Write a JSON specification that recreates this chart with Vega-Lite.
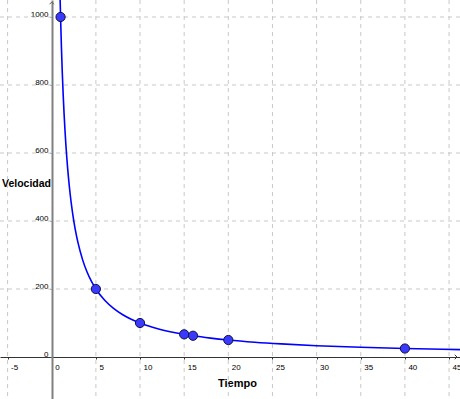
{
  "$schema": "https://vega.github.io/schema/vega-lite/v6.json",
  "width": 460,
  "height": 399,
  "padding": 0,
  "autosize": {"type": "none"},
  "background": "white",
  "config": {"view": {"stroke": null}, "font": "Liberation Sans"},
  "datasets": {
    "curve": [
      {"Tiempo": 0.95, "Velocidad": 1052.6},
      {"Tiempo": 1.0, "Velocidad": 1000},
      {"Tiempo": 1.1, "Velocidad": 909.1},
      {"Tiempo": 1.2, "Velocidad": 833.3},
      {"Tiempo": 1.3, "Velocidad": 769.2},
      {"Tiempo": 1.4, "Velocidad": 714.3},
      {"Tiempo": 1.5, "Velocidad": 666.7},
      {"Tiempo": 1.6, "Velocidad": 625},
      {"Tiempo": 1.8, "Velocidad": 555.6},
      {"Tiempo": 2.0, "Velocidad": 500},
      {"Tiempo": 2.2, "Velocidad": 454.5},
      {"Tiempo": 2.5, "Velocidad": 400},
      {"Tiempo": 2.8, "Velocidad": 357.1},
      {"Tiempo": 3.0, "Velocidad": 333.3},
      {"Tiempo": 3.5, "Velocidad": 285.7},
      {"Tiempo": 4.0, "Velocidad": 250},
      {"Tiempo": 4.5, "Velocidad": 222.2},
      {"Tiempo": 5.0, "Velocidad": 200},
      {"Tiempo": 6.0, "Velocidad": 166.7},
      {"Tiempo": 7.0, "Velocidad": 142.9},
      {"Tiempo": 8.0, "Velocidad": 125},
      {"Tiempo": 9.0, "Velocidad": 111.1},
      {"Tiempo": 10.0, "Velocidad": 100},
      {"Tiempo": 12.0, "Velocidad": 83.3},
      {"Tiempo": 14.0, "Velocidad": 71.4},
      {"Tiempo": 16.0, "Velocidad": 62.5},
      {"Tiempo": 18.0, "Velocidad": 55.6},
      {"Tiempo": 20.0, "Velocidad": 50},
      {"Tiempo": 23.0, "Velocidad": 43.5},
      {"Tiempo": 26.0, "Velocidad": 38.5},
      {"Tiempo": 30.0, "Velocidad": 33.3},
      {"Tiempo": 35.0, "Velocidad": 28.6},
      {"Tiempo": 40.0, "Velocidad": 25},
      {"Tiempo": 46.3, "Velocidad": 21.6}
    ],
    "points": [
      {"Tiempo": 1, "Velocidad": 1000},
      {"Tiempo": 5, "Velocidad": 200},
      {"Tiempo": 10, "Velocidad": 100},
      {"Tiempo": 15, "Velocidad": 66.7},
      {"Tiempo": 16, "Velocidad": 62.5},
      {"Tiempo": 20, "Velocidad": 50},
      {"Tiempo": 40, "Velocidad": 25}
    ],
    "vgrid": [
      {"v": -5}, {"v": 5}, {"v": 10}, {"v": 15}, {"v": 20},
      {"v": 25}, {"v": 30}, {"v": 35}, {"v": 40}, {"v": 45}
    ],
    "hgrid": [
      {"v": 200}, {"v": 400}, {"v": 600}, {"v": 800}, {"v": 1000}
    ],
    "xarrow": [{"x": 45.9, "y": 0}],
    "yarrow": [{"x": 0, "y": 1044}]
  },
  "layer": [
    {
      "data": {"name": "vgrid"},
      "mark": {"type": "rule", "color": "#c8c8c8", "strokeDash": [4, 4], "strokeWidth": 1},
      "encoding": {
        "x": {"field": "v", "type": "quantitative",
              "scale": {"domain": [-5.86, 46.24], "nice": false, "zero": false},
              "axis": {
                "orient": "bottom", "offset": -42, "values": [-5, 0, 5, 10, 15, 20, 25, 30, 35, 40, 45],
                "labelExpr": "'' + datum.value",
                "grid": false, "domainColor": "#333333", "domainWidth": 1,
                "tickColor": "#333333", "tickSize": 2,
                "labelFont": "Liberation Sans", "labelFontSize": 8, "labelColor": "#000000",
                "labelAlign": "left", "labelOffset": 3, "labelBaseline": "top", "labelPadding": 4,
                "title": "Tiempo", "titleFont": "Liberation Sans", "titleFontSize": 11, "titleFontWeight": "bold",
                "titleX": 237, "titleY": 26, "titleAlign": "center", "titleBaseline": "middle", "titleColor": "#000000"
              }}
      }
    },
    {
      "data": {"name": "hgrid"},
      "mark": {"type": "rule", "color": "#c8c8c8", "strokeDash": [4, 4], "strokeWidth": 1},
      "encoding": {
        "y": {"field": "v", "type": "quantitative",
              "scale": {"domain": [-123.5, 1050], "nice": false, "zero": false},
              "axis": {
                "orient": "left", "offset": -52, "values": [0, 200, 400, 600, 800, 1000],
                "labelExpr": "'' + datum.value",
                "grid": false, "domainColor": "#808080", "domainWidth": 2,
                "tickColor": "#555555", "tickSize": 2,
                "labelFont": "Liberation Sans", "labelFontSize": 8, "labelColor": "#000000",
                "labelAlign": "right", "labelBaseline": "alphabetic", "labelOffset": -1, "labelPadding": 2,
                "title": "Velocidad", "titleFont": "Liberation Sans", "titleFontSize": 10.5, "titleFontWeight": "bold",
                "titleX": -26, "titleY": 183, "titleAngle": 0, "titleAlign": "center", "titleBaseline": "middle", "titleColor": "#000000"
              }}
      }
    },
    {
      "data": {"name": "xarrow"},
      "mark": {"type": "point", "shape": "M-1,-1L0,0L-1,1", "filled": false, "stroke": "#333333", "strokeWidth": 1, "size": 20, "opacity": 1},
      "encoding": {
        "x": {"field": "x", "type": "quantitative"},
        "y": {"field": "y", "type": "quantitative"}
      }
    },
    {
      "data": {"name": "yarrow"},
      "mark": {"type": "point", "shape": "M-1,1L0,0L1,1", "filled": false, "stroke": "#606060", "strokeWidth": 1, "size": 20, "opacity": 1},
      "encoding": {
        "x": {"field": "x", "type": "quantitative"},
        "y": {"field": "y", "type": "quantitative"}
      }
    },
    {
      "data": {"name": "curve"},
      "mark": {"type": "line", "color": "#0000ff", "strokeWidth": 1.6, "interpolate": "monotone", "clip": true},
      "encoding": {
        "x": {"field": "Tiempo", "type": "quantitative"},
        "y": {"field": "Velocidad", "type": "quantitative"}
      }
    },
    {
      "data": {"name": "points"},
      "mark": {"type": "point", "filled": true, "fill": "#3a3aff", "stroke": "#101040", "strokeWidth": 1, "size": 85, "opacity": 1},
      "encoding": {
        "x": {"field": "Tiempo", "type": "quantitative"},
        "y": {"field": "Velocidad", "type": "quantitative"}
      }
    }
  ]
}
